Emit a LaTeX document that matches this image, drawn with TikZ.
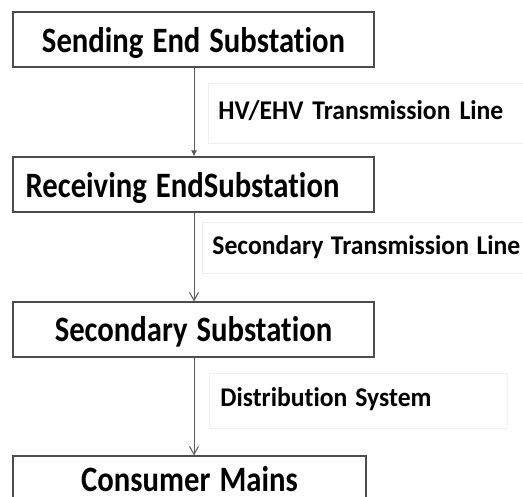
\documentclass[tikz,border=0pt]{standalone}
\usepackage{fontspec}
\setmainfont{Carlito}[Ligatures=NoCommon]
\newfontfamily\boxfont{Carlito}[FakeStretch=0.86, Ligatures=NoCommon]
\newfontfamily\labfont{Carlito}[FakeStretch=0.95, Ligatures=NoCommon]
\newcommand\stagetext{\boxfont\bfseries\fontsize{35.7}{40}\selectfont}
\newcommand\linktext{\labfont\bfseries\fontsize{27}{30}\selectfont}
\newcommand\gap{\hspace{9pt}}
\newcommand\lgap{\hspace{9pt}}
\usetikzlibrary{arrows.meta}
\begin{document}
\begin{tikzpicture}[x=1pt,y=-1pt,
  stagebox/.style={draw=black!70, line width=1.2pt, fill=white, inner sep=0pt,
    align=center, font=\stagetext},
  linklabel/.style={draw=black!6, line width=0.8pt, inner ysep=0pt, align=left,
    anchor=base west, font=\linktext},
  flow/.style={draw=black!65, line width=1pt}]
\useasboundingbox (0,0) rectangle (523,497);

% substations and consumer mains
\node[stagebox, text width=361pt, text height=41pt, text depth=14pt] (send) at (193.5,39.5) {Sending\gap End\gap Substation};
\node[stagebox, text width=361pt, text height=41pt, text depth=14pt] (recv) at (193.5,184.5) {Receiving\gap EndSubstation\hspace{22pt}\mbox{}};
\node[stagebox, text width=361pt, text height=40pt, text depth=15pt] (sec) at (193.5,329.5) {Secondary\gap Substation};
\node[stagebox, text width=353pt, text height=36pt, text depth=19pt] (cons) at (189.5,483.5) {Consumer\gap Mains};

% line labels (anchored at the left edge of their frames)
\node[linklabel, inner xsep=10pt, text width=302pt, text height=37pt, text depth=23pt] (hv) at (208,120) {HV/EHV\lgap Transmission\lgap Line};
\node[linklabel, inner xsep=10pt, text width=330pt, text height=33pt, text depth=18pt] (stl) at (202,255) {Secondary\hspace{7.5pt}Transmission\hspace{7.5pt}Line};
\node[linklabel, inner xsep=11pt, text width=276pt, text height=34pt, text depth=21pt] (dist) at (209,407) {Distribution\hspace{8pt}System};

% connectors
\coordinate (c1) at (194,67);
\coordinate (c2) at (194,212);
\coordinate (c3) at (194,357);
\draw[flow, -{Latex[length=6pt,width=6pt]}] (c1) -- (c1 |- recv.north);
\draw[flow, -{Straight Barb[length=8pt,width=9pt]}] (c2) -- (c2 |- sec.north);
\draw[flow, -{Straight Barb[length=8pt,width=9pt]}] (c3) -- (c3 |- cons.north);
\end{tikzpicture}
\end{document}
